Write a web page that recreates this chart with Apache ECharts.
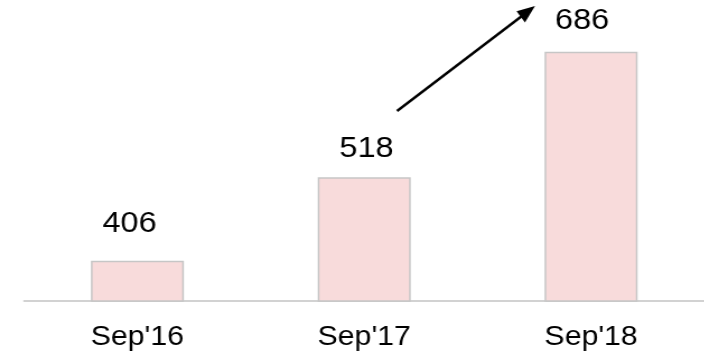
<!DOCTYPE html>
<html>
<head>
<meta charset="utf-8">
<script src="https://cdn.jsdelivr.net/npm/echarts@6/dist/echarts.min.js"></script>
<style>
  html, body { margin: 0; padding: 0; background: #fff; overflow: hidden; }
  /* the chart is drawn a little narrower and widened, giving the text its wide look */
  #chart { width: 629px; height: 359px; transform: scaleX(1.12); transform-origin: 0 0; }
</style>
</head>
<body>
<div id="chart"></div>
<script>
// Headcount by September of each year
const categories = ["Sep'16", "Sep'17", "Sep'18"];
const values = [406, 518, 686];

// small per-bar nudges for the value labels [dx, dy]
const labelNudge = [[-7, -6], [2, 2], [-8, 0]];

const chart = echarts.init(document.getElementById('chart'), null, { renderer: 'canvas' });

const FONT = '"Liberation Sans", Arial, sans-serif';

chart.setOption({
  animation: false,
  grid: { left: 21.4, right: -3.1, top: 4, bottom: 58, containLabel: false },
  xAxis: {
    type: 'category',
    data: categories,
    axisLine: { show: true, lineStyle: { color: '#c3c3c3', width: 1.6 } },
    axisTick: { show: false },
    axisLabel: { color: '#000', fontSize: 27, fontFamily: FONT, margin: 23 }
  },
  yAxis: {
    type: 'value',
    min: 352,
    max: 750,
    show: false,
    splitLine: { show: false }
  },
  series: [{
    type: 'bar',
    barWidth: '41%',
    data: values.map((v, i) => ({
      value: v,
      label: { offset: labelNudge[i] }
    })),
    itemStyle: { color: '#f8dbdb', borderColor: '#c6c6c6', borderWidth: 1.5 },
    label: {
      show: true,
      position: 'top',
      distance: 16,
      color: '#000',
      fontSize: 29,
      fontFamily: FONT
    }
  }],
  graphic: [{
    type: 'group',
    children: [
      {
        type: 'line',
        shape: { x1: 354.5, y1: 111, x2: 465.4, y2: 16.5 },
        style: { stroke: '#000', lineWidth: 2.4 }
      },
      {
        type: 'polygon',
        shape: { points: [[477.7, 6], [468.7, 22.5], [461.2, 11.3]] },
        style: { fill: '#000' }
      }
    ]
  }]
});
</script>
</body>
</html>
